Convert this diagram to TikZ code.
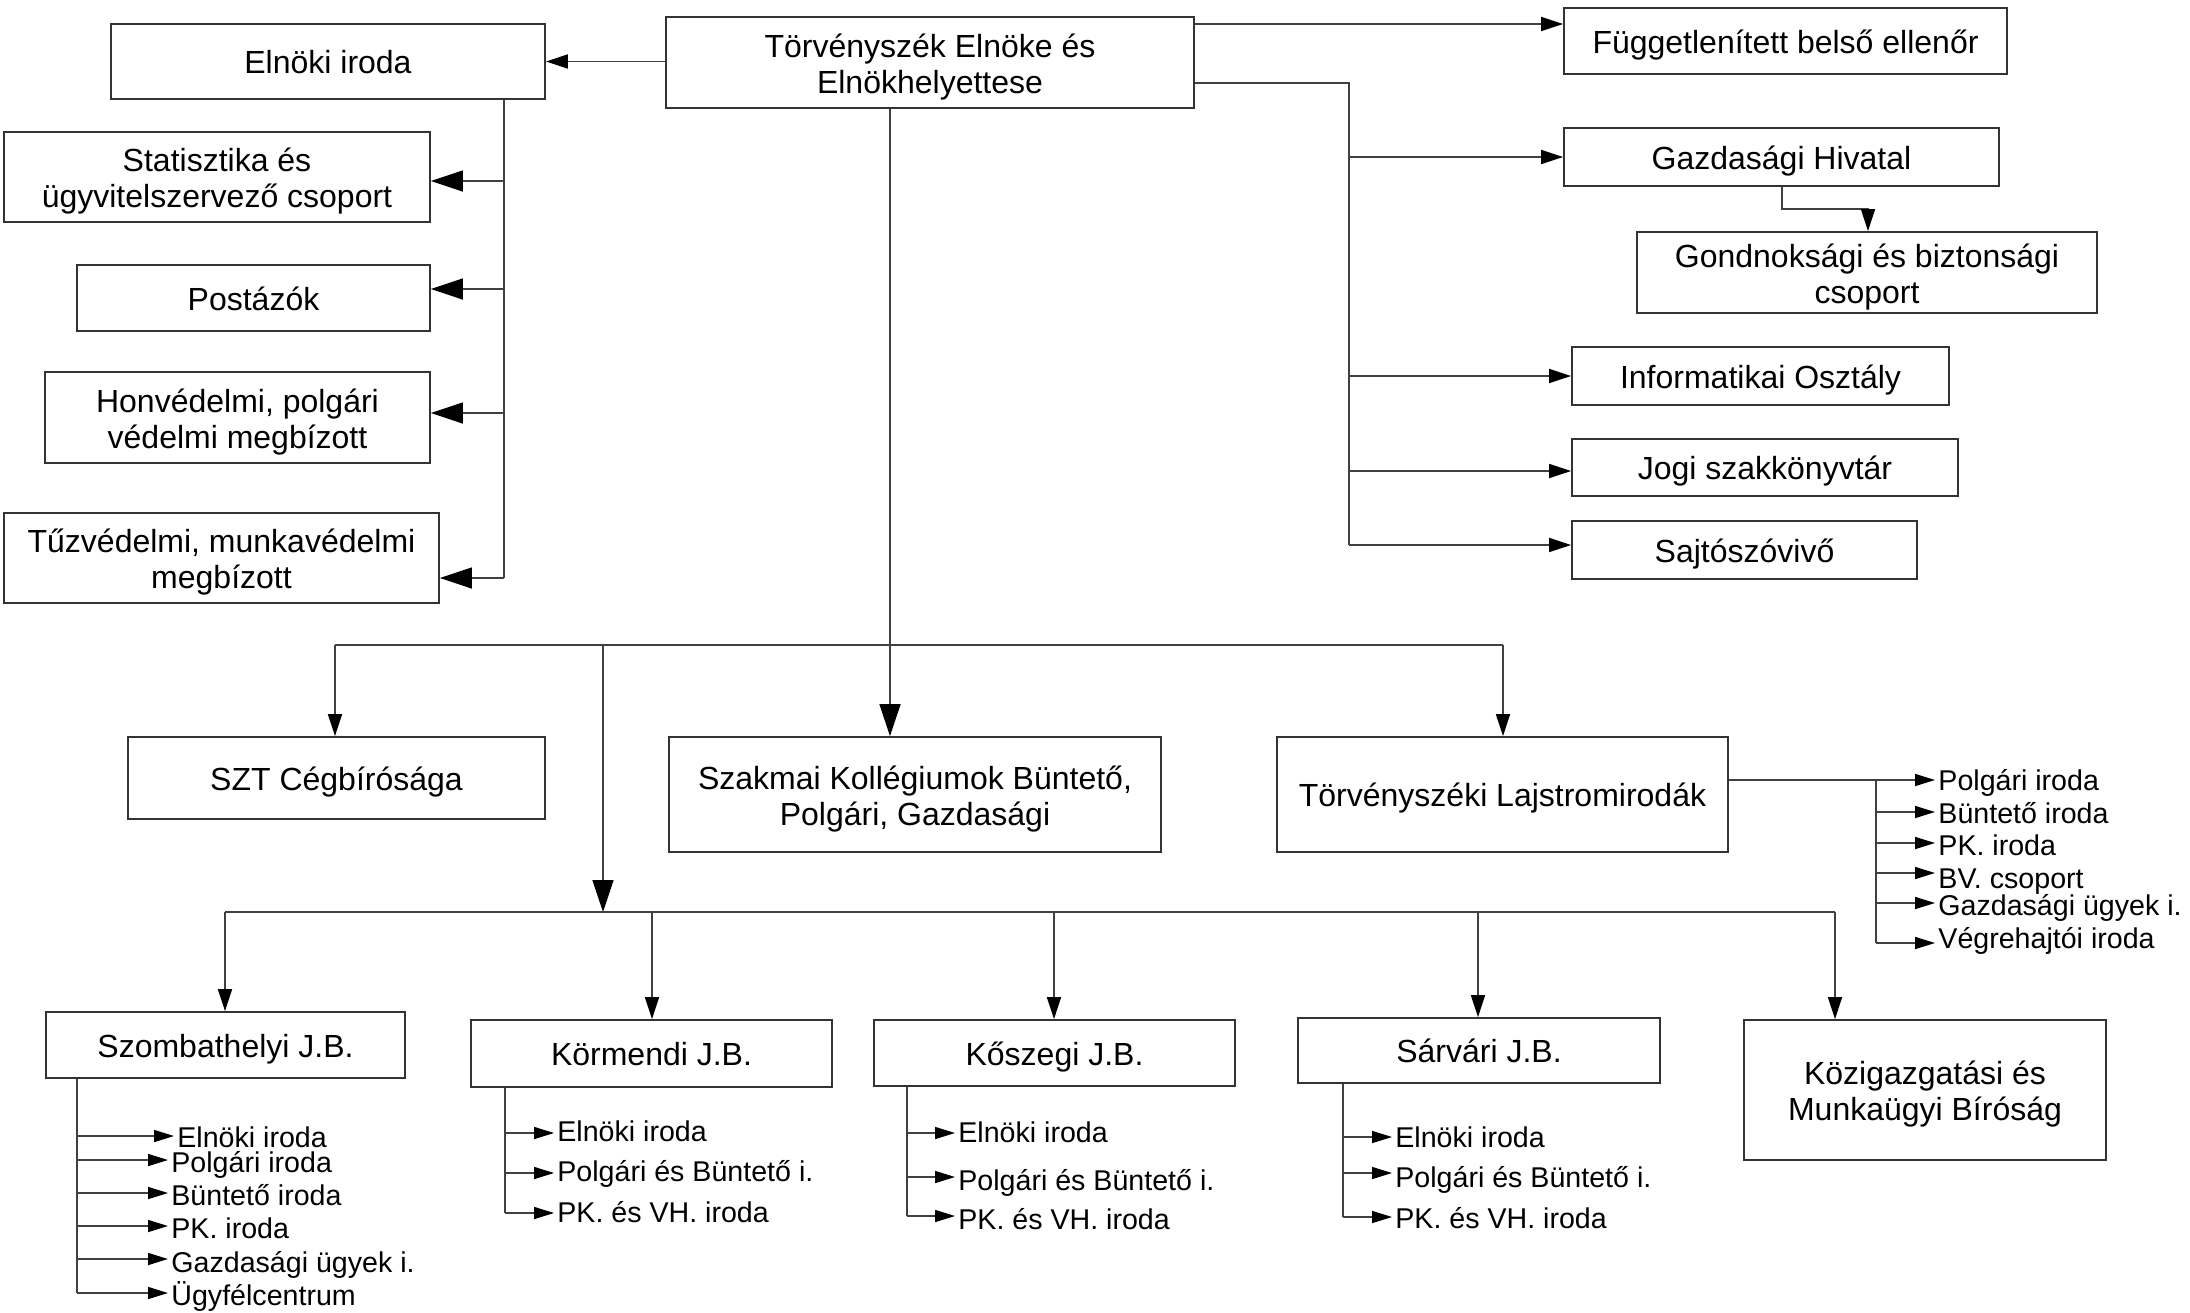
\documentclass[tikz,border=0pt]{standalone}
\usepackage{fontspec}
\setmainfont{Liberation Sans}
\usetikzlibrary{arrows.meta}
\tikzset{
  box/.style={draw=black!80, line width=0.9pt, fill=white, inner sep=0pt,
    font=\fontsize{16}{18}\selectfont},
  box1/.style={box, text height=12pt, text depth=0pt},
  bx/.style 2 args={minimum width=#1, minimum height=#2},
  ln/.style={draw=black!75, line width=0.8pt},
  arr/.style={ln, -{Triangle[length=11pt,width=7pt,color=black]}},
  barr/.style={ln, -{Triangle[length=16pt,width=10.5pt,color=black]}},
  sarr/.style={ln, -{Triangle[length=10pt,width=6pt,color=black]}, shorten >=1.5pt},
  lbl/.style={anchor=base west, inner sep=0pt, font=\fontsize{14.3}{16}\selectfont},
}
% two-line box text: first baseline 2.75pt above the box centre
\newcommand\twol[2]{\raisebox{2.75pt}[0pt][0pt]{\begin{tabular}[t]{@{}c@{}}#1\\#2\end{tabular}}}
% name, spine x, line y, text x, text baseline y, text
\newcommand\litem[6]{%
  \node[lbl] (#1) at (#4,#5) {#6};
  \draw[sarr] (#2,#3) -- (#1.west |- #2,#3);
}
\begin{document}
\begin{tikzpicture}[x=0.5pt,y=-0.5pt]
\fill[white] (0,0) rectangle (2190,1312);
\useasboundingbox (0,0) rectangle (2190,1312);

% boxes
\node[box,bx={264pt}{45.5pt}] (elnoke) at (930,62.5) {\twol{Törvényszék Elnöke és}{Elnökhelyettese}};
\node[box1,bx={217pt}{37.5pt}] (elnoki) at (328,61.5) {Elnöki iroda};
\node[box1,bx={221.5pt}{33pt}] (fugg) at (1785.5,41) {Függetlenített belső ellenőr};
\node[box1,bx={217.5pt}{29pt}] (gazd) at (1781.5,157) {Gazdasági Hivatal};
\node[box,bx={230pt}{40.5pt}] (gondn) at (1867,272.5) {\twol{Gondnoksági és biztonsági}{csoport}};
\node[box1,bx={188.5pt}{29pt}] (info) at (1760.5,376) {Informatikai Osztály};
\node[box1,bx={193pt}{28.5pt}] (jogi) at (1765,467.5) {Jogi szakkönyvtár};
\node[box1,bx={172.5pt}{29pt}] (sajto) at (1744.5,550) {Sajtószóvivő};
\node[box,bx={213pt}{45pt}] (stat) at (217,177) {\twol{Statisztika és}{ügyvitelszervező csoport}};
\node[box1,bx={176.5pt}{33pt}] (post) at (253.5,298) {Postázók};
\node[box,bx={192.5pt}{45.5pt}] (honv) at (237.5,417.5) {\twol{Honvédelmi, polgári}{védelmi megbízott}};
\node[box,bx={217.5pt}{45pt}] (tuz) at (221.5,558) {\twol{Tűzvédelmi, munkavédelmi}{megbízott}};
\node[box1,bx={208.5pt}{41pt}] (szt) at (336.5,778) {SZT Cégbírósága};
\node[box,bx={246pt}{57.5pt}] (szakmai) at (915,794.5) {\twol{Szakmai Kollégiumok Büntető,}{Polgári, Gazdasági}};
\node[box1,bx={225.5pt}{57.5pt}] (lajstrom) at (1502.5,794.5) {Törvényszéki Lajstromirodák};
\node[box1,bx={179.5pt}{33pt}] (szomb) at (225.5,1045) {Szombathelyi J.B.};
\node[box1,bx={180.5pt}{33.5pt}] (korm) at (651.5,1053.5) {Körmendi J.B.};
\node[box1,bx={180.5pt}{33pt}] (kosz) at (1054.5,1053) {Kőszegi J.B.};
\node[box1,bx={181pt}{32.5pt}] (sarv) at (1479,1050.5) {Sárvári J.B.};
\node[box,bx={181pt}{70pt}] (kozig) at (1925,1090) {\twol{Közigazgatási és}{Munkaügyi Bíróság}};

% top-left
\draw[arr] (elnoke.west |- elnoki.east) -- (elnoki.east);
\coordinate (ls) at (504,578);
\draw[ln] (elnoki.south -| ls) -- (ls);
\draw[barr] (ls |- 0,181) -- (stat.east |- 0,181);
\draw[barr] (ls |- 0,289) -- (post.east |- 0,289);
\draw[barr] (ls |- 0,413) -- (honv.east |- 0,413);
\draw[barr] (ls) -- (tuz.east |- ls);

% top-right
\draw[arr] (elnoke.east |- 0,24) -- (fugg.west |- 0,24);
\coordinate (rs) at (1349,545);
\draw[ln] (elnoke.east |- 0,83) -| (rs);
\draw[arr] (rs |- gazd.west) -- (gazd.west);
\draw[arr] (rs |- info.west) -- (info.west);
\draw[arr] (rs |- 0,471) -- (jogi.west |- 0,471);
\draw[arr] (rs) -- (sajto.west |- rs);
\draw[arr] (gazd.south -| 1782,0) |- (1868,209) -- (gondn.north -| 1868,0);

% trunk and middle bar
\coordinate (b1l) at (335,645);
\coordinate (b1r) at (1503,645);
\coordinate (j1) at (603,645);
\draw[ln] (b1l) -- (b1r);
\draw[barr] (elnoke.south -| 890,0) -- (szakmai.north -| 890,0);
\draw[arr] (b1l) -- (szt.north -| b1l);
\draw[arr] (b1r) -- (lajstrom.north -| b1r);

% lower bar
\coordinate (b2l) at (225,912);
\coordinate (b2r) at (1835,912);
\draw[barr] (j1) -- (j1 |- b2l);
\draw[ln] (b2l) -- (b2r);
\draw[arr] (b2l) -- (szomb.north -| b2l);
\draw[arr] (652,912) -- (korm.north -| 652,0);
\draw[arr] (1054,912) -- (kosz.north -| 1054,0);
\draw[arr] (1478,912) -- (sarv.north -| 1478,0);
\draw[arr] (b2r) -- (kozig.north -| b2r);

% Lajstrom list
\coordinate (ljs) at (1876,943);
\node[lbl] (lj1) at (1938,790) {Polgári iroda};
\draw[sarr] (lajstrom.east |- 0,780) -- (lj1.west |- 0,780);
\draw[ln] (ljs |- 0,780) -- (ljs);
\litem{lj2}{1876}{812}{1938}{823}{Büntető iroda}
\litem{lj3}{1876}{843}{1938}{855}{PK. iroda}
\litem{lj4}{1876}{873}{1938}{888}{BV. csoport}
\litem{lj5}{1876}{903}{1938}{915}{Gazdasági ügyek i.}
\litem{lj6}{1876}{943}{1938}{948}{Végrehajtói iroda}

% Szombathelyi list
\draw[ln] (szomb.south -| 77,0) -- (77,1293);
\litem{sz1}{77}{1136}{177}{1147}{Elnöki iroda}
\litem{sz2}{77}{1160}{171}{1172}{Polgári iroda}
\litem{sz3}{77}{1193}{171}{1205}{Büntető iroda}
\litem{sz4}{77}{1226}{171}{1238}{PK. iroda}
\litem{sz5}{77}{1259}{171}{1272}{Gazdasági ügyek i.}
\litem{sz6}{77}{1293}{171}{1305}{Ügyfélcentrum}

% Körmendi list
\draw[ln] (korm.south -| 505,0) -- (505,1213);
\litem{k1}{505}{1133}{557}{1141}{Elnöki iroda}
\litem{k2}{505}{1173}{557}{1181}{Polgári és Büntető i.}
\litem{k3}{505}{1213}{557}{1222}{PK. és VH. iroda}

% Kőszegi list
\draw[ln] (kosz.south -| 907,0) -- (907,1216);
\litem{ko1}{907}{1133}{958}{1142}{Elnöki iroda}
\litem{ko2}{907}{1177}{958}{1190}{Polgári és Büntető i.}
\litem{ko3}{907}{1216}{958}{1229}{PK. és VH. iroda}

% Sárvári list
\draw[ln] (sarv.south -| 1343,0) -- (1343,1217);
\litem{sa1}{1343}{1137}{1395}{1147}{Elnöki iroda}
\litem{sa2}{1343}{1173}{1395}{1187}{Polgári és Büntető i.}
\litem{sa3}{1343}{1217}{1395}{1228}{PK. és VH. iroda}
\end{tikzpicture}
\end{document}
